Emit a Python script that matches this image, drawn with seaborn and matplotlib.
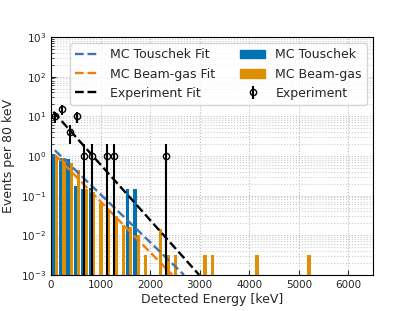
import numpy as np
import pandas as pd
import matplotlib
matplotlib.use("Agg")
import matplotlib.pyplot as plt
import seaborn as sns
from matplotlib.patches import Patch
from matplotlib.lines import Line2D

# ---- data ----
bin_edges = list(range(0, 6601, 150))
bin_centers = [75 + 150 * i for i in range(44)]

touschek_bins = [0, 1, 2, 3, 4, 5, 10, 11]
touschek_vals = [1.15, 0.9, 0.85, 0.17, 0.15, 0.16, 0.15, 0.15]

beamgas_bins = [0, 1, 2, 3, 4, 5, 6, 7, 8, 9, 10, 11, 12, 14, 15, 16, 20, 21, 27, 34]
beamgas_vals = [1.0, 0.9, 0.65, 0.45, 0.15, 0.12, 0.065, 0.045, 0.03, 0.018,
                0.016, 0.010, 0.0032, 0.014, 0.0032, 0.0032, 0.0032, 0.0032,
                0.0032, 0.0032]

exp_energy = [75, 225, 375, 525, 675, 825, 1125, 1275, 2325]
exp_counts = [10, 15, 4, 10, 1, 1, 1, 1, 1]
exp_err = [3.2, 3.9, 2.0, 3.2, 1, 1, 1, 1, 1]

touschek_fit_x = [75, 2684]
touschek_fit_y = [1.4, 0.001]
beamgas_fit_x = [81, 2448]
beamgas_fit_y = [1.06, 0.001]
exp_fit_x = [47, 2990]
exp_fit_y = [13.0, 0.001]

labels = ["MC Touschek", "MC Beam-gas"]
bar_colors = ["#0173B2", "#DE8F05"]
fit_colors = ["#4272B0", "#F07F0A", "black"]

# ---- build table ----
rows = []
for b, v in zip(touschek_bins, touschek_vals):
    rows.append({"energy": bin_centers[b], "w": v, "source": labels[0]})
for b, v in zip(beamgas_bins, beamgas_vals):
    rows.append({"energy": bin_centers[b], "w": v, "source": labels[1]})
df = pd.DataFrame(rows)

sns.set_style("ticks")
plt.rcParams["font.family"] = ["DejaVu Sans"]

fig, ax = plt.subplots(figsize=(4.15, 3.11), dpi=100)
fig.subplots_adjust(left=0.123, right=0.899, top=0.881, bottom=0.116)
ax.set_yscale("log")

sns.histplot(data=df, x="energy", weights="w", hue="source", bins=bin_edges,
             multiple="dodge", shrink=0.9, palette=bar_colors, alpha=1,
             linewidth=0, hue_order=labels, legend=False, ax=ax)

fit_df = pd.DataFrame({
    "x": touschek_fit_x + beamgas_fit_x + exp_fit_x,
    "y": touschek_fit_y + beamgas_fit_y + exp_fit_y,
    "fit": ["MC Touschek Fit"] * 2 + ["MC Beam-gas Fit"] * 2 + ["Experiment Fit"] * 2,
})
sns.lineplot(data=fit_df, x="x", y="y", hue="fit", palette=fit_colors,
             linestyle="--", linewidth=1.7, legend=False, ax=ax, zorder=4)

eb = ax.errorbar(exp_energy, exp_counts, yerr=exp_err, fmt="o", color="black",
                 mfc="none", mec="black", ms=4.5, elinewidth=1.5, capsize=0, zorder=5)

ax.set_xlim(0, 6500)
ax.set_ylim(1e-3, 1e3)
ax.set_xticks(range(0, 6001, 1000))
ax.grid(True, which="major", linestyle=":", color="#bbbbbb", linewidth=0.8)
ax.grid(True, which="minor", axis="y", linestyle=":", color="#cccccc", linewidth=0.8)
ax.set_axisbelow(True)
ax.tick_params(direction="in", labelsize=7.5)
ax.tick_params(which="minor", direction="in")
for s in ax.spines.values():
    s.set_visible(True)
    s.set_color("black")

ax.set_xlabel("Detected Energy [keV]", fontsize=9, labelpad=2)
ax.set_ylabel("Events per 80 keV", fontsize=9, labelpad=4)

handles = [
    Line2D([], [], color=fit_colors[0], ls="--", lw=1.7),
    Line2D([], [], color=fit_colors[1], ls="--", lw=1.7),
    Line2D([], [], color=fit_colors[2], ls="--", lw=1.7),
    Patch(color=bar_colors[0]),
    Patch(color=bar_colors[1]),
    eb,
]
leg_labels = ["MC Touschek Fit", "MC Beam-gas Fit", "Experiment Fit",
              "MC Touschek", "MC Beam-gas", "Experiment"]
ax.legend(handles, leg_labels, ncol=2, loc="upper right", fontsize=9,
          frameon=True, framealpha=0.8)

fig.savefig("out.png", dpi=100)
